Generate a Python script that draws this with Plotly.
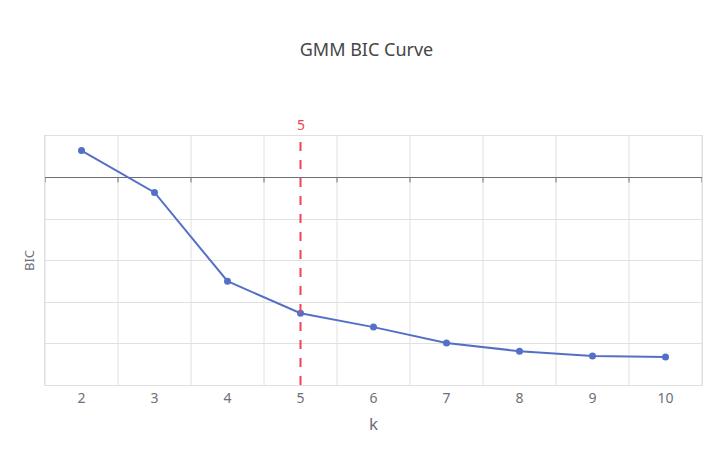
import plotly.graph_objects as go

# BIC per number of components (y labels hidden in the source, scale estimated)
k = [2, 3, 4, 5, 6, 7, 8, 9, 10]
bic = [1300, -720, -5000, -6540, -7210, -7980, -8370, -8600, -8650]
best_k = 5

fig = go.Figure()
fig.add_trace(go.Scatter(x=k, y=bic, mode="lines+markers",
                         line=dict(color="#5470c6", width=2),
                         marker=dict(size=7, color="#5470c6"),
                         hoverinfo="x+y", showlegend=False))

# category boundaries: grid lines and ticks on the zero axis
bounds = [v - 0.5 for v in k] + [k[-1] + 0.5]
shapes = []
for b in bounds:
    shapes.append(dict(type="line", xref="x", yref="y", x0=b, x1=b, y0=-10000, y1=2000,
                       line=dict(color="#e0e0e0", width=1), layer="below"))
    shapes.append(dict(type="line", xref="x", yref="y", ysizemode="pixel", yanchor=0,
                       x0=b, x1=b, y0=0, y1=-5, line=dict(color="#6e7079", width=1)))
shapes.append(dict(type="line", xref="x", yref="paper", x0=best_k, x1=best_k, y0=0, y1=1,
                   line=dict(color="#ee4455", width=2, dash="dash")))
fig.update_layout(shapes=shapes)

fig.add_annotation(x=best_k, y=1, xref="x", yref="paper", text=str(best_k), showarrow=False,
                   yanchor="bottom", yshift=0, font=dict(color="#ee4455", size=14))

fig.update_layout(
    width=717, height=454,
    margin=dict(l=37, r=23, t=128, b=77),
    paper_bgcolor="white", plot_bgcolor="white",
    font=dict(family="Noto Sans, Open Sans, sans-serif", color="#6e7079", size=14),
    title=dict(text="GMM BIC Curve", x=0.5, xanchor="center", y=0.908, yanchor="middle",
               font=dict(size=18, color="#464646")),
    xaxis=dict(range=[1.5, 10.5], tickvals=k, showgrid=False, zeroline=False,
               showline=True, linecolor="#e0e0e0", mirror=True, ticks="", automargin=False,
               title=dict(text="k", standoff=12)),
    yaxis=dict(range=[-10000, 2000], dtick=2000, showticklabels=False, automargin=False,
               gridcolor="#e0e0e0", zeroline=True, zerolinecolor="#6e7079", zerolinewidth=1,
               showline=True, linecolor="#e0e0e0", mirror=True,
               title=dict(text="BIC", standoff=6, font=dict(size=13))),
)

fig.write_html("out.html")
